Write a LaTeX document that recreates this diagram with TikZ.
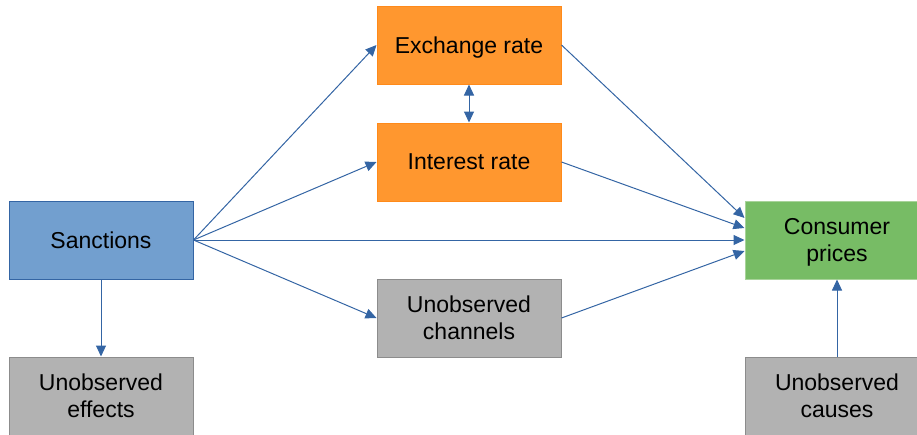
\documentclass[tikz,border=0pt]{standalone}
\usepackage{fontspec}
\setmainfont{Liberation Sans}
\usetikzlibrary{
    arrows.meta,
    calc
}
\definecolor{skyfill}{HTML}{729FCF}
\definecolor{skyline}{HTML}{3465A4}
\definecolor{orangefill}{HTML}{FF972F}
\definecolor{orangeline}{HTML}{FF8A1A}
\definecolor{greenfill}{HTML}{77BC65}
\definecolor{greenline}{HTML}{A8D39A}
\definecolor{greyfill}{HTML}{B2B2B2}
\definecolor{greyline}{HTML}{8C8C8C}
\tikzset {
    box/.style = {
        draw, rectangle, line width = 1pt,
        minimum width = 184pt, minimum height = 78pt,
        align = center, inner sep = 0pt,
        font = \fontsize{23}{27}\selectfont
    },
    no depth/.style = {text depth = 0pt},
    cause box/.style = {box, fill = skyfill, draw = skyline},
    rate box/.style = {box, fill = orangefill, draw = orangeline},
    outcome box/.style = {box, fill = greenfill, draw = greenline},
    hidden box/.style = {box, fill = greyfill, draw = greyline},
    link/.style = {
        draw = skyline, line width = 1pt,
        arrows = {-Triangle[length = 11pt, width = 10pt]}
    },
    both link/.style = {
        link,
        arrows = {Triangle[length = 11pt, width = 10pt]-Triangle[length = 11pt, width = 10pt]}
    }
}

\begin{document}
\begin{tikzpicture}[x = 1pt, y = -1pt]
    \useasboundingbox (0, 0) rectangle (917, 434);
    \node (sanc) [cause box] at (101, 240) {Sanctions};
    \node (eff) [hidden box] at (101, 396) {Unobserved\\effects};
    \node (exch) [rate box, no depth] at (469, 45) {Exchange rate};
    \node (intr) [rate box] at (469, 162) {Interest rate};
    \node (chan) [hidden box] at (469, 318) {Unobserved\\channels};
    \node (cpi) [outcome box, no depth] at (837, 240) {Consumer\\prices};
    \node (caus) [hidden box] at (837, 396) {Unobserved\\causes};
    \draw [link] (sanc.east) -- (exch.west);
    \draw [link] (sanc.east) -- (intr.west);
    \draw [link] (sanc.east) -- (cpi.west);
    \draw [link] (sanc.east) -- (chan.west);
    \draw [link] (sanc.south) -- (eff.north);
    \draw [both link] (exch.south) -- (intr.north);
    \draw [link] (exch.east) -- ($(cpi.west) + (0, -22)$);
    \draw [link] (intr.east) -- ($(cpi.west) + (0, -12)$);
    \draw [link] (chan.east) -- ($(cpi.west) + (0, 11)$);
    \draw [link] (caus.north) -- (cpi.south);
\end{tikzpicture}
\end{document}
